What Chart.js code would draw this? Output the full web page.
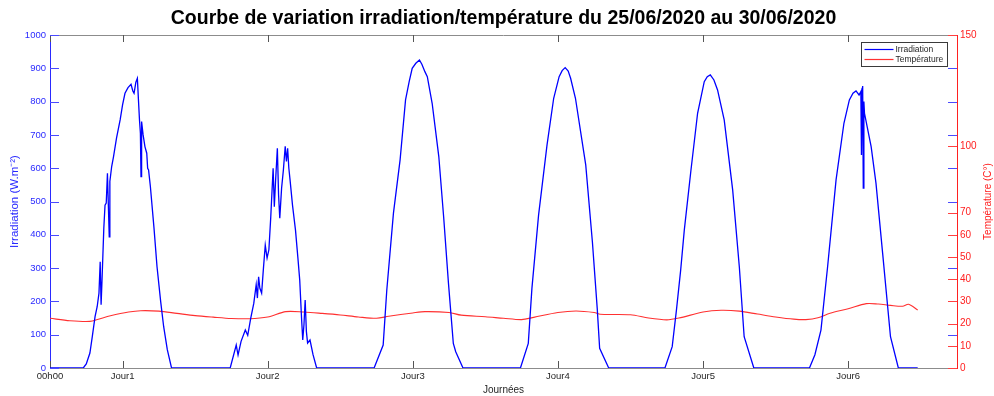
<!DOCTYPE html>
<html><head><meta charset="utf-8">
<script src="https://cdn.jsdelivr.net/npm/chart.js@4.4.1/dist/chart.umd.min.js"></script>
<style>html,body{margin:0;padding:0;background:#fff;}canvas{display:block;}</style>
</head><body>
<canvas id="c" width="994" height="396"></canvas>
<script>
const titleText = 'Courbe de variation irradiation/température du 25/06/2020 au 30/06/2020';
const xTitle = 'Journées';
const yLeftTitle = 'Irradiation (W.m\u207B\u00B2)';
const yRightTitle = 'Température (C°)';
const xTickValues = [0, 12, 36, 60, 84, 108, 132];
const xTickLabels = ['00h00', 'Jour1', 'Jour2', 'Jour3', 'Jour4', 'Jour5', 'Jour6'];
const yLeftTicks = [0, 100, 200, 300, 400, 500, 600, 700, 800, 900, 1000];
const yRightTicks = [0, 10, 20, 30, 40, 50, 60, 70, 100, 150];

// Irradiation (W/m2) vs hours since 25/06 00h00
const irrHours = [
  0, 5.5, 6.0, 6.6, 7.0, 7.45, 7.8, 8.1, 8.3, 8.45, 8.6, 8.9, 9.1, 9.3, 9.5, 9.6, 9.8, 9.9, 10.2, 10.5, 11.0, 11.6, 12.0, 12.4, 12.9, 13.4, 13.7, 13.9, 14.2, 14.45, 14.6, 14.8, 14.95, 15.05, 15.15, 15.4, 15.7, 16.0, 16.15, 16.3, 16.6, 17.2, 17.7, 18.3, 18.8, 19.4, 20.1,
  29.8, 30.8, 31.1, 31.6, 32.3, 32.7, 33.2, 33.7, 34.1, 34.3, 34.5, 34.7, 35.0, 35.3, 35.6, 35.9, 36.2, 36.5, 36.9, 37.1, 37.3, 37.6, 37.8, 38.0, 38.3, 38.6, 38.9, 39.1, 39.3, 39.5, 39.7, 40.1, 40.6, 41.0, 41.3, 41.6, 41.8, 42.0, 42.2, 42.4, 42.6, 43.0, 43.5, 44.1,
  53.6, 55.1, 55.7, 56.8, 57.9, 58.8, 59.4, 59.9, 60.5, 61.1, 61.5, 62.0, 62.4, 63.2, 64.3, 65.1, 65.9, 66.7, 67.1, 68.3,
  77.8, 79.1, 79.7, 80.8, 82.2, 83.3, 84.2, 84.7, 85.2, 85.7, 86.1, 86.9, 88.6, 89.7, 90.5, 90.9, 92.4,
  101.7, 102.9, 103.6, 104.3, 104.9, 106.0, 107.1, 108.2, 108.7, 109.2, 109.8, 110.4, 111.5, 112.9, 114.0, 114.8, 116.4,
  125.6, 126.5, 127.5, 128.6, 130.0, 131.3, 132.2, 132.8, 133.3, 133.8, 134.1, 134.2, 134.3, 134.4, 134.5, 134.6, 134.7, 135.8, 136.6, 137.7, 139.0, 140.3, 143.5
];
const irrValues = [
  0, 0, 12, 45, 95, 154, 184, 225, 319, 190, 262, 420, 489, 495, 585, 520, 394, 560, 605, 634, 690, 745, 790, 825, 842, 852, 832, 825, 858, 870, 815, 745, 705, 575, 740, 700, 665, 645, 600, 595, 545, 420, 304, 200, 124, 55, 0,
  0, 69, 39, 80, 114, 98, 150, 194, 250, 210, 274, 240, 225, 300, 369, 330, 355, 450, 600, 484, 560, 660, 520, 450, 540, 595, 666, 620, 660, 600, 565, 490, 414, 330, 264, 150, 84, 130, 204, 110, 75, 84, 40, 0,
  0, 69, 234, 465, 625, 805, 860, 900, 915, 925, 912, 890, 875, 795, 635, 454, 254, 74, 49, 0,
  0, 74, 239, 459, 670, 810, 875, 893, 902, 892, 870, 810, 610, 379, 179, 59, 0,
  0, 64, 174, 294, 414, 594, 765, 860, 875, 880, 865, 835, 745, 535, 304, 94, 0,
  0, 40, 114, 304, 565, 735, 805, 825, 832, 820, 830, 640, 840, 847, 540, 800, 765, 665, 555, 345, 94, 0, 0
];

// Temperature (°C) vs hours
const tempHours = [0, 3.3, 6.6, 8, 10, 13, 15, 18, 21, 24, 27, 30, 33, 36, 39, 42, 45, 48, 51, 54, 56, 60, 62, 66, 68, 72, 75, 78, 80, 84, 87, 90, 91, 96, 99, 102, 104, 108, 111, 114, 117, 120, 123, 125, 127, 129, 132, 135, 137, 139, 141, 142, 143.5];
const tempValues = [22.4, 21.3, 21.0, 22.0, 23.5, 25.2, 25.8, 25.6, 24.6, 23.6, 22.9, 22.3, 22.2, 23.0, 25.4, 25.2, 24.6, 23.9, 23.0, 22.4, 23.3, 24.8, 25.4, 25.0, 23.8, 23.1, 22.4, 21.8, 22.8, 25.0, 25.7, 25.0, 24.2, 24.0, 22.5, 21.7, 22.5, 25.2, 26.0, 25.6, 24.3, 23.0, 22.0, 21.8, 22.6, 24.7, 26.7, 29.0, 28.8, 28.2, 27.8, 28.7, 26.1];

const BLUE = '#0000ff', RED = '#ff3030', GRAY = '#8c8c8c', DARK = '#262626';
const AX_BLUE = '#2a2aff', AX_RED = '#ff2020';
Chart.defaults.font.family = "'Liberation Sans', Arial, sans-serif";

const decor = {
  id: 'decor',
  beforeDatasetsDraw(chart) {
    const {ctx, chartArea: a, scales: {x, y, y1}} = chart;
    const line = (x0, y0, x1, y1_) => { ctx.beginPath(); ctx.moveTo(x0, y0); ctx.lineTo(x1, y1_); ctx.stroke(); };
    ctx.save();
    ctx.lineWidth = 1;
    ctx.strokeStyle = GRAY;
    line(a.left, Math.round(a.top) + 0.5, a.right, Math.round(a.top) + 0.5);
    ctx.strokeStyle = '#555';
    xTickValues.forEach(v => {
      const px = Math.round(x.getPixelForValue(v)) + 0.5;
      line(px, a.bottom, px, a.bottom - 7);
      line(px, a.top, px, a.top + 7);
    });
    const L = 9;
    ctx.strokeStyle = '#4a4aff';
    yLeftTicks.forEach(v => {
      const py = Math.round(y.getPixelForValue(v)) + 0.5;
      line(a.left, py, a.left + L, py);
      line(a.right - L, py, a.right, py);
    });
    ctx.strokeStyle = '#ff4040';
    yRightTicks.forEach(v => {
      const py = Math.round(y1.getPixelForValue(v)) + 0.5;
      line(a.right - L, py, a.right, py);
    });
    ctx.restore();
  },
  afterDraw(chart) {
    const {ctx, chartArea: a} = chart;
    ctx.save();
    ctx.translate(chart.width - 6, (a.top + a.bottom) / 2);
    ctx.rotate(-Math.PI / 2);
    ctx.fillStyle = AX_RED;
    ctx.font = "10px 'Liberation Sans', Arial, sans-serif";
    ctx.textAlign = 'center';
    ctx.textBaseline = 'middle';
    ctx.fillText(yRightTitle, 0, 0);
    ctx.restore();
    ctx.save();
    const bw = 86, bh = 24;
    const bx = Math.round(a.right - 10 - bw) + 0.5, by = Math.round(a.top + 7) + 0.5;
    ctx.fillStyle = '#fff';
    ctx.fillRect(bx, by, bw, bh);
    ctx.strokeStyle = '#3a3a3a';
    ctx.lineWidth = 1;
    ctx.strokeRect(bx, by, bw, bh);
    ctx.font = "8.5px 'Liberation Sans', Arial, sans-serif";
    ctx.textBaseline = 'middle';
    ctx.fillStyle = DARK;
    chart.data.datasets.forEach((ds, i) => {
      const ly = by + 7 + i * 10;
      ctx.strokeStyle = ds.borderColor;
      ctx.lineWidth = 1.2;
      ctx.beginPath(); ctx.moveTo(bx + 3, ly); ctx.lineTo(bx + 32, ly); ctx.stroke();
      ctx.fillText(ds.label, bx + 34, ly + 0.5);
    });
    ctx.restore();
  }
};

new Chart(document.getElementById('c'), {
  type: 'line',
  data: {
    datasets: [
      { label: 'Irradiation', data: irrHours.map((h, i) => ({x: h, y: irrValues[i]})), borderColor: BLUE, borderWidth: 1.3, pointRadius: 0, tension: 0, yAxisID: 'y' },
      { label: 'Température', data: tempHours.map((h, i) => ({x: h, y: tempValues[i]})), borderColor: RED, borderWidth: 1.1, pointRadius: 0, tension: 0.3, yAxisID: 'y1' }
    ]
  },
  options: {
    responsive: false,
    animation: false,
    layout: { padding: 0 },
    plugins: {
      legend: { display: false },
      tooltip: { enabled: false },
      title: { display: true, fullSize: false, text: titleText, color: '#000', font: { size: 19.5, weight: 'bold' }, padding: { top: 7, bottom: 4.6 } }
    },
    scales: {
      x: {
        type: 'linear', min: 0, max: 150,
        afterBuildTicks: s => { s.ticks = xTickValues.map(v => ({ value: v })); },
        afterFit: s => { s.height = 28; },
        ticks: { callback: v => xTickLabels[xTickValues.indexOf(v)], color: DARK, font: { size: 9.5 }, padding: 3, maxRotation: 0, autoSkip: false },
        grid: { display: false, drawTicks: false },
        border: { color: GRAY, width: 1 },
        title: { display: true, text: xTitle, color: DARK, font: { size: 10 }, padding: { top: 0, bottom: 0 } }
      },
      y: {
        position: 'left', min: 0, max: 1000,
        afterBuildTicks: s => { s.ticks = yLeftTicks.map(v => ({ value: v })); },
        afterFit: s => { s.width = 50; },
        ticks: { callback: v => String(v), color: AX_BLUE, font: { size: 9.5 }, padding: 4 },
        grid: { display: false, drawTicks: false },
        border: { color: AX_BLUE, width: 1 },
        title: { display: true, text: yLeftTitle, color: AX_BLUE, font: { size: 11.5 }, padding: { top: 8, bottom: 0 } }
      },
      y1: {
        position: 'right', min: 0, max: 150,
        afterBuildTicks: s => { s.ticks = yRightTicks.map(v => ({ value: v })); },
        afterFit: s => { s.width = 37; },
        ticks: { callback: v => String(v), color: AX_RED, font: { size: 10 }, padding: 3 },
        grid: { display: false, drawTicks: false },
        border: { color: AX_RED, width: 1 }
      }
    }
  },
  plugins: [decor]
});
</script>
</body></html>
